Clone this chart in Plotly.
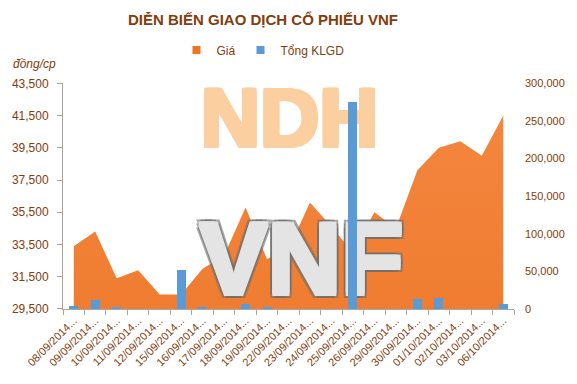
import plotly.graph_objects as go

dates = ["08/09/2014", "09/09/2014", "10/09/2014", "11/09/2014", "12/09/2014",
         "15/09/2014", "16/09/2014", "17/09/2014", "18/09/2014", "19/09/2014",
         "22/09/2014", "23/09/2014", "24/09/2014", "25/09/2014", "26/09/2014",
         "29/09/2014", "30/09/2014", "01/10/2014", "02/10/2014", "03/10/2014",
         "06/10/2014"]
price = [33400, 34300, 31400, 31900, 30400, 30400, 32000, 32800, 35800, 32600,
         33200, 36100, 34600, 33000, 35500, 34500, 38100, 39500, 39900, 39000,
         41500]
volume = [4000, 12000, 2000, 0, 0, 51000, 2500, 0, 6500, 2500,
          0, 0, 0, 275000, 0, 0, 13000, 14500, 0, 0, 6500]
tick_labels = [d + "..." for d in dates]

BROWN = "#843C0C"
ORANGE = "#EE7524"
BLUE = "#5B9BD5"
FONT = "Liberation Sans"
idx = list(range(len(dates)))


def thick(color, px):
    parts = []
    for dx, dy in [(px, 0), (-px, 0), (0, px), (0, -px),
                   (px, px), (-px, px), (px, -px), (-px, -px)]:
        parts.append(f"{dx}px {dy}px 0px {color}")
    return ", ".join(parts)


fig = go.Figure()

fig.add_trace(go.Scatter(
    x=idx, y=price, name="Giá", mode="lines", fill="tozeroy",
    line=dict(width=0, color=ORANGE),
    fillcolor=ORANGE,
    fillgradient=dict(type="vertical",
                      colorscale=[[0, "#E1650C"], [1, "#F5863F"]]),
    yaxis="y", hoverinfo="x+y", showlegend=False,
))

# watermark texts (drawn above the area, below the bars)
fig.add_trace(go.Scatter(
    x=[10.05], y=[40900], mode="text", text=["NDH"],
    textposition="middle center", showlegend=False, hoverinfo="skip",
    textfont=dict(family="Liberation Sans", size=82, weight="bold",
                  color="#FBCFA0", shadow=thick("#FBCFA0", 2)),
    yaxis="y",
))
# soft dark rim under the VNF letters
fig.add_trace(go.Scatter(
    x=[10.6], y=[32000], mode="text", text=["VNF"],
    textposition="middle center", showlegend=False, hoverinfo="skip",
    textfont=dict(family="Liberation Sans", size=102, weight="bold",
                  color="#7A7A7A", shadow=thick("rgba(110,110,110,0.6)", 4)),
    yaxis="y",
))
fig.add_trace(go.Scatter(
    x=[10.6], y=[32000], mode="text", text=["VNF"],
    textposition="middle center", showlegend=False, hoverinfo="skip",
    textfont=dict(family="Liberation Sans", size=102, weight="bold",
                  color="#E4E4E4", shadow=thick("#E4E4E4", 2)),
    yaxis="y",
))

fig.add_trace(go.Bar(
    x=idx, y=volume, name="Tổng KLGD", width=0.42,
    marker=dict(color=BLUE, line=dict(width=0)),
    yaxis="y2", showlegend=False,
))

# legend entries with small square keys
fig.add_trace(go.Scatter(x=[None], y=[None], name="Giá", mode="markers",
                         marker=dict(symbol="square", size=8, color=ORANGE),
                         yaxis="y"))
fig.add_trace(go.Scatter(x=[None], y=[None], name="Tổng KLGD", mode="markers",
                         marker=dict(symbol="square", size=8, color=BLUE),
                         yaxis="y"))

fig.update_layout(
    width=577, height=384,
    margin=dict(l=54, r=54, t=80, b=75),
    paper_bgcolor="white", plot_bgcolor="rgba(0,0,0,0)",
    font=dict(family=FONT, color=BROWN, size=12),
    title=dict(text="<b>DIỄN BIẾN GIAO DỊCH CỔ PHIẾU VNF</b>",
               x=263 / 577, xanchor="center", xref="container",
               y=1 - 20 / 384, yanchor="middle", yref="container",
               font=dict(family=FONT, size=15, color=BROWN)),
    legend=dict(orientation="h", x=263 / 577, xanchor="center", xref="container",
                y=1 - 50 / 384, yanchor="middle", yref="container",
                font=dict(size=12, color=BROWN), itemwidth=30,
                bgcolor="rgba(0,0,0,0)"),
    showlegend=True,
    xaxis=dict(range=[-0.5, len(dates) - 0.5], tickmode="array", tickvals=idx,
               ticktext=tick_labels, tickangle=-45, ticks="",
               tickfont=dict(size=11, color=BROWN),
               showline=True, linecolor="#A6A6A6", linewidth=1,
               showgrid=False, zeroline=False,
               minor=dict(tickmode="array",
                          tickvals=[i - 0.5 for i in range(len(dates) + 1)],
                          ticks="outside", ticklen=5, tickcolor="#A6A6A6",
                          showgrid=False)),
    yaxis=dict(range=[29500, 43500], tick0=29500, dtick=2000, tickformat=",",
               showline=True, linecolor="#A6A6A6", linewidth=1,
               ticks="outside", ticklen=5, tickcolor="#A6A6A6",
               showgrid=False, zeroline=False, ticklabelstandoff=6,
               tickfont=dict(size=12, color=BROWN)),
    yaxis2=dict(range=[0, 300000], dtick=50000, tickformat=",", overlaying="y",
                side="right", showline=False, ticks="", showgrid=False,
                zeroline=False, ticklabelstandoff=10,
                tickfont=dict(size=11, color=BROWN)),
    bargap=0,
    annotations=[dict(text="<i>đồng/cp</i>", xref="paper", yref="paper",
                      x=-54 / 469, xanchor="left",
                      y=(384 - 75 - 60) / 229, yanchor="middle",
                      showarrow=False, font=dict(size=12, color=BROWN))],
)

fig.write_html("out.html")
